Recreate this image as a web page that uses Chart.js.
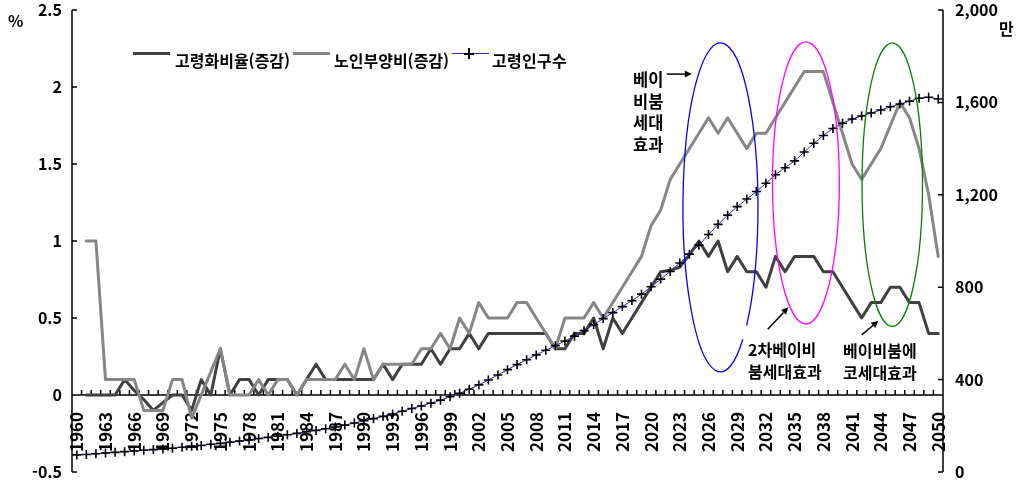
<!DOCTYPE html>
<html lang="ko">
<head>
<meta charset="utf-8">
<title>고령화비율·노인부양비 증감과 고령인구수</title>
<script src="https://cdn.jsdelivr.net/npm/chart.js@4.4.1/dist/chart.umd.min.js"></script>
<style>
  html, body { margin: 0; padding: 0; background: #fff; }
  #wrap {
    position: relative; width: 1019px; height: 490px; overflow: hidden;
    font-family: "Noto Sans CJK KR", "Noto Sans", sans-serif; font-weight: bold; color: #000;
  }
  #wrap canvas { position: absolute; left: 0; top: 0; }
  .txt { position: absolute; font-size: 16px; line-height: 20px; white-space: nowrap; }
  .note { position: absolute; font-size: 16px; line-height: 21.7px; white-space: nowrap; }
  .swatch { position: absolute; }
</style>
</head>
<body>
<div id="wrap">
  <canvas id="chart" width="1019" height="490"></canvas>

  <!-- 범례 -->
  <div class="swatch" style="left:133px; top:52px; width:37px; height:3px; background:#404040;"></div>
  <div class="txt" style="left:175px; top:49.5px;">고령화비율(증감)</div>
  <div class="swatch" style="left:293px; top:52px; width:37px; height:3px; background:#868686;"></div>
  <div class="txt" style="left:334px; top:49.5px;">노인부양비(증감)</div>
  <div class="swatch" style="left:452px; top:53px; width:37px; height:1px; background:#2f2fa8;"></div>
  <div class="swatch" style="left:468px; top:48px; width:1.6px; height:11px; background:#000;"></div>
  <div class="swatch" style="left:464px; top:53px; width:10px; height:1.6px; background:#000;"></div>
  <div class="txt" style="left:492px; top:49.5px; letter-spacing:0.3px;">고령인구수</div>

  <!-- 단위 -->
  <div class="txt" style="left:8px; top:10px;">%</div>
  <div class="txt" style="left:999px; top:18px;">만</div>

  <!-- 주석 -->
  <div class="note" style="left:633px; top:69px; font-size:16.5px;">베이<br>비붐<br>세대<br>효과</div>
  <div class="note" style="left:748px; top:339px;">2차베이비<br>붐세대효과</div>
  <div class="note" style="left:843px; top:340px;">베이비붐에<br>코세대효과</div>
</div>

<script>
// =============================================
// 데이터 (1960~2050)
// =============================================

const years = [
  1960, 1961, 1962, 1963, 1964, 1965, 1966, 1967, 1968, 1969,
  1970, 1971, 1972, 1973, 1974, 1975, 1976, 1977, 1978, 1979,
  1980, 1981, 1982, 1983, 1984, 1985, 1986, 1987, 1988, 1989,
  1990, 1991, 1992, 1993, 1994, 1995, 1996, 1997, 1998, 1999,
  2000, 2001, 2002, 2003, 2004, 2005, 2006, 2007, 2008, 2009,
  2010, 2011, 2012, 2013, 2014, 2015, 2016, 2017, 2018, 2019,
  2020, 2021, 2022, 2023, 2024, 2025, 2026, 2027, 2028, 2029,
  2030, 2031, 2032, 2033, 2034, 2035, 2036, 2037, 2038, 2039,
  2040, 2041, 2042, 2043, 2044, 2045, 2046, 2047, 2048, 2049,
  2050
];

// 고령화비율 증감 (%p)
const agingRateChange = [
  null, 0, 0, 0, 0, 0.1, 0.03, -0.03, -0.1, -0.05,
  0, 0, -0.1, 0.1, 0, 0.3, 0, 0.1, 0.1, 0,
  0.1, 0.1, 0.1, 0, 0.1, 0.2, 0.1, 0.1, 0.1, 0.1,
  0.1, 0.1, 0.2, 0.1, 0.2, 0.2, 0.2, 0.3, 0.2, 0.3,
  0.3, 0.4, 0.3, 0.4, 0.4, 0.4, 0.4, 0.4, 0.4, 0.4,
  0.3, 0.3, 0.4, 0.4, 0.5, 0.3, 0.5, 0.4, 0.5, 0.6,
  0.7, 0.8, 0.81, 0.83, 0.91, 1.0, 0.9, 1.0, 0.8, 0.9,
  0.8, 0.8, 0.7, 0.9, 0.8, 0.9, 0.9, 0.9, 0.8, 0.8,
  0.7, 0.6, 0.5, 0.6, 0.6, 0.7, 0.7, 0.6, 0.6, 0.4,
  0.4
];

// 노인부양비 증감 (%p)
const dependencyChange = [
  null, 1, 1, 0.1, 0.1, 0.1, 0.1, -0.1, -0.1, -0.1,
  0.1, 0.1, -0.15, 0, 0.15, 0.3, 0, 0, 0, 0.1,
  0, 0.1, 0.1, 0, 0.1, 0.1, 0.1, 0.1, 0.2, 0.1,
  0.3, 0.1, 0.2, 0.2, 0.2, 0.2, 0.3, 0.3, 0.4, 0.3,
  0.5, 0.4, 0.6, 0.5, 0.5, 0.5, 0.6, 0.6, 0.5, 0.4,
  0.3, 0.5, 0.5, 0.5, 0.6, 0.5, 0.6, 0.7, 0.8, 0.9,
  1.1, 1.2, 1.4, 1.5, 1.6, 1.7, 1.8, 1.7, 1.8, 1.7,
  1.6, 1.7, 1.7, 1.8, 1.9, 2.0, 2.1, 2.1, 2.1, 1.9,
  1.7, 1.5, 1.4, 1.5, 1.6, 1.75, 1.9, 1.8, 1.6, 1.3,
  0.9
];

// 고령인구수 (만 명)
const elderlyPop = [
  74, 76, 79, 82, 85, 88, 91, 94, 97, 100,
  103, 107, 111, 115, 120, 124, 129, 134, 139, 145,
  150, 155, 161, 167, 174, 180, 187, 195, 203, 212,
  222, 231, 241, 251, 263, 275, 286, 298, 311, 326,
  341, 358, 377, 398, 420, 443, 465, 486, 507, 527,
  547, 567, 588, 612, 638, 664, 690, 716, 742, 770,
  802, 835, 868, 905, 943, 982, 1028, 1072, 1112, 1149,
  1182, 1214, 1250, 1287, 1317, 1347, 1385, 1423, 1457, 1487,
  1510, 1528, 1541, 1554, 1567, 1581, 1593, 1605, 1618, 1622,
  1615
];

const leftTicks = [-0.5, 0, 0.5, 1, 1.5, 2, 2.5];
const rightTicks = [0, 400, 800, 1200, 1600, 2000];
const labelYears = years.filter(y => (y - years[0]) % 3 === 0);

// =============================================
// 주석 (타원, 화살표) — 데이터 좌표 기준
// =============================================

const ellipses = [
  { cx: 2027.25, cy: 1.218, rx: 3.92, ry: 1.068, color: '#0000ff', gap: [0.80, 0.93] },
  { cx: 2036.18, cy: 1.377, rx: 3.49, ry: 0.916, color: '#ff00ff' },
  { cx: 2045.2, cy: 1.366, rx: 3.16, ry: 0.921, color: '#008000' },
];

const arrows = [
  { from: [2021.63, 2.084], to: [2024.25, 2.084] },
  { from: [2032.19, 0.427], to: [2034.34, 0.569] },
  { from: [2042.01, 0.390], to: [2043.74, 0.481] },
];

// =============================================
// 축선 / 눈금 (안쪽 방향)
// =============================================

const axisFrame = {
  id: 'axisFrame',
  beforeDatasetsDraw(chart) {
    const { ctx, chartArea: a, scales: { x, y, y1 } } = chart;
    const y0 = y.getPixelForValue(0);
    ctx.save();
    ctx.strokeStyle = '#000';
    ctx.lineWidth = 1.5;
    ctx.beginPath();
    ctx.moveTo(a.left, a.top); ctx.lineTo(a.left, a.bottom);
    ctx.moveTo(a.right, a.top); ctx.lineTo(a.right, a.bottom);
    ctx.moveTo(a.left, y0); ctx.lineTo(a.right, y0);
    leftTicks.forEach(v => {
      const p = y.getPixelForValue(v);
      ctx.moveTo(a.left, p); ctx.lineTo(a.left + 5, p);
    });
    rightTicks.forEach(v => {
      const p = y1.getPixelForValue(v);
      ctx.moveTo(a.right - 5, p); ctx.lineTo(a.right, p);
    });
    // 연도 경계마다 작은 눈금
    for (let b = x.min; b <= x.max + 0.01; b++) {
      const p = x.getPixelForValue(b);
      ctx.moveTo(p, y0); ctx.lineTo(p, y0 - 5);
    }
    ctx.stroke();
    ctx.restore();
  }
};

const annotations = {
  id: 'annotations',
  afterDatasetsDraw(chart) {
    const { ctx, scales: { x, y } } = chart;
    ctx.save();

    ellipses.forEach(e => {
      const px = x.getPixelForValue(e.cx);
      const py = y.getPixelForValue(e.cy);
      const rx = x.getPixelForValue(e.cx + e.rx) - px;
      const ry = py - y.getPixelForValue(e.cy + e.ry);
      ctx.strokeStyle = e.color;
      ctx.lineWidth = 1.3;
      ctx.beginPath();
      if (e.gap) ctx.ellipse(px, py, rx, ry, 0, e.gap[1], e.gap[0] + Math.PI * 2);
      else ctx.ellipse(px, py, rx, ry, 0, 0, Math.PI * 2);
      ctx.stroke();
    });

    ctx.strokeStyle = '#000';
    ctx.fillStyle = '#000';
    ctx.lineWidth = 1.5;
    arrows.forEach(ar => {
      const x1 = x.getPixelForValue(ar.from[0]), y1 = y.getPixelForValue(ar.from[1]);
      const x2 = x.getPixelForValue(ar.to[0]), y2 = y.getPixelForValue(ar.to[1]);
      const ang = Math.atan2(y2 - y1, x2 - x1);
      const head = 7, half = 3.5;
      ctx.beginPath();
      ctx.moveTo(x1, y1);
      ctx.lineTo(x2 - Math.cos(ang) * head, y2 - Math.sin(ang) * head);
      ctx.stroke();
      ctx.beginPath();
      ctx.moveTo(x2, y2);
      ctx.lineTo(x2 - Math.cos(ang) * head - Math.sin(ang) * half, y2 - Math.sin(ang) * head + Math.cos(ang) * half);
      ctx.lineTo(x2 - Math.cos(ang) * head + Math.sin(ang) * half, y2 - Math.sin(ang) * head - Math.cos(ang) * half);
      ctx.closePath();
      ctx.fill();
    });

    ctx.restore();
  }
};

// =============================================
// 차트
// =============================================

const yFont = { family: '"Noto Sans CJK KR", sans-serif', weight: 'bold', size: 16 };
const xFont = { family: '"Noto Sans CJK KR", sans-serif', weight: 'bold', size: 17 };
const toPoints = arr => years.map((yr, i) => ({ x: yr, y: arr[i] }));

// 축 라벨이 플롯 영역을 밀어내지 않도록
const noLabelPadding = s => { s.paddingTop = 0; s.paddingBottom = 0; s.paddingLeft = 0; s.paddingRight = 0; };

new Chart(document.getElementById('chart'), {
  type: 'line',
  data: {
    datasets: [
      {
        label: '고령화비율(증감)',
        data: toPoints(agingRateChange),
        yAxisID: 'y',
        borderColor: '#404040',
        borderWidth: 3,
        borderJoinStyle: 'round',
        borderCapStyle: 'round',
        pointRadius: 0,
        order: 2,
      },
      {
        label: '노인부양비(증감)',
        data: toPoints(dependencyChange),
        yAxisID: 'y',
        borderColor: '#868686',
        borderWidth: 3,
        borderJoinStyle: 'round',
        borderCapStyle: 'round',
        pointRadius: 0,
        order: 1,
      },
      {
        label: '고령인구수',
        data: toPoints(elderlyPop),
        yAxisID: 'y1',
        borderColor: '#2f2fa8',
        borderWidth: 1,
        pointStyle: 'cross',
        pointRadius: 4.5,
        pointBorderColor: '#000',
        pointBorderWidth: 1.6,
        order: 0,
      },
    ]
  },
  options: {
    responsive: false,
    animation: false,
    layout: { padding: { top: 10, bottom: 18, left: 0, right: 0 } },
    plugins: {
      legend: { display: false },
      tooltip: { enabled: false },
    },
    scales: {
      x: {
        type: 'linear',
        min: years[0] - 0.5,
        max: years[years.length - 1] + 0.5,
        position: { y: 0 },
        afterBuildTicks: s => { s.ticks = labelYears.map(v => ({ value: v })); },
        afterFit: noLabelPadding,
        ticks: {
          autoSkip: false,
          minRotation: 90,
          maxRotation: 90,
          padding: 17,
          color: '#000',
          font: xFont,
          callback: v => String(v),
        },
        grid: { display: false, drawTicks: false },
        border: { display: false },
      },
      y: {
        position: 'left',
        min: -0.5,
        max: 2.5,
        afterBuildTicks: s => { s.ticks = leftTicks.map(v => ({ value: v })); },
        afterFit: s => { s.width = 72; noLabelPadding(s); },
        ticks: { padding: 10, color: '#000', font: yFont, callback: v => String(v) },
        grid: { display: false, drawTicks: false },
        border: { display: false },
      },
      y1: {
        position: 'right',
        min: 0,
        max: 2000,
        afterBuildTicks: s => { s.ticks = rightTicks.map(v => ({ value: v })); },
        afterFit: s => { s.width = 76; noLabelPadding(s); },
        ticks: { padding: 12, color: '#000', font: yFont, callback: v => v.toLocaleString('en-US') },
        grid: { display: false, drawTicks: false },
        border: { display: false },
      },
    }
  },
  plugins: [axisFrame, annotations]
});
</script>
</body>
</html>
